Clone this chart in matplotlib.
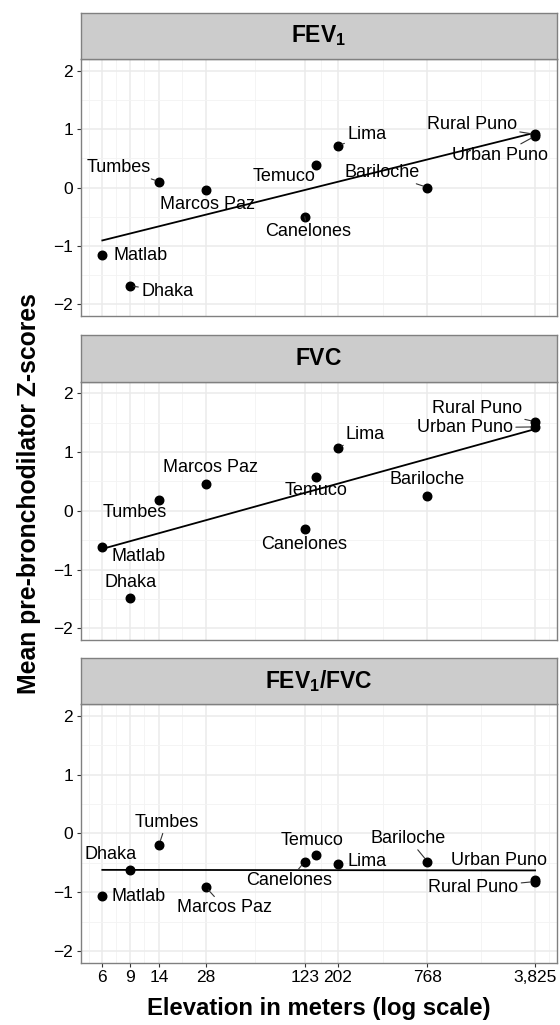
import numpy as np
import matplotlib
matplotlib.use("Agg")
import matplotlib.pyplot as plt
from matplotlib.ticker import NullFormatter

plt.rcParams['font.family'] = ['Liberation Sans', 'DejaVu Sans']
plt.rcParams['mathtext.fontset'] = 'custom'
plt.rcParams['mathtext.rm'] = 'Liberation Sans'
plt.rcParams['mathtext.bf'] = 'Liberation Sans:bold'

# data
sites = ["Matlab", "Dhaka", "Tumbes", "Marcos Paz", "Canelones",
         "Temuco", "Lima", "Bariloche", "Rural Puno", "Urban Puno"]
elevation = [6, 9, 14, 28, 123, 145, 202, 768, 3825, 3825]
tick_elevations = [6, 9, 14, 28, 123, 202, 768, 3825]

fev1_z = [-1.16, -1.68, 0.10, -0.05, -0.50, 0.38, 0.71, 0.00, 0.91, 0.88]
fvc_z = [-0.61, -1.48, 0.18, 0.46, -0.31, 0.58, 1.07, 0.25, 1.52, 1.43]
ratio_z = [-1.07, -0.62, -0.19, -0.91, -0.48, -0.375, -0.52, -0.48, -0.82, -0.79]

panel_titles = [r"$\mathbf{FEV}_{\mathbf{1}}$", r"$\mathbf{FVC}$",
                r"$\mathbf{FEV}_{\mathbf{1}}\mathbf{/FVC}$"]
panel_values = [fev1_z, fvc_z, ratio_z]

# label offsets (points) for each panel, and which labels get a segment
label_offsets = [
    {"Matlab": (27.6, 0), "Dhaka": (27.1, -4.3), "Tumbes": (-28.8, 10.1),
     "Marcos Paz": (1.7, -9.9), "Canelones": (2.2, -10.6), "Temuco": (-22.8, -7.9),
     "Lima": (20.7, 8.6), "Bariloche": (-32.4, 10.8), "Rural Puno": (-45.4, 7.2),
     "Urban Puno": (-25.2, -13.7)},
    {"Matlab": (26.4, -7.2), "Dhaka": (0.7, 11), "Tumbes": (-17.3, -9.1),
     "Marcos Paz": (3.6, 11.7), "Canelones": (-0.5, -11), "Temuco": (0.5, -10.1),
     "Lima": (19.4, 10.1), "Bariloche": (0, 12.2), "Rural Puno": (-41.8, 9.1),
     "Urban Puno": (-50.4, -0.7)},
    {"Matlab": (26.1, 0), "Dhaka": (-13.9, 10.8), "Tumbes": (5.3, 16.1),
     "Marcos Paz": (13.7, -15.1), "Canelones": (-11.3, -13.7), "Temuco": (-2.9, 10.8),
     "Lima": (20.7, 1.9), "Bariloche": (-13.7, 16.6), "Rural Puno": (-44.4, -4.3),
     "Urban Puno": (-25.9, 13.7)},
]
segments = [
    {"Dhaka", "Tumbes", "Canelones", "Lima", "Bariloche", "Rural Puno", "Urban Puno"},
    {"Lima", "Rural Puno", "Urban Puno"},
    {"Tumbes", "Marcos Paz", "Canelones", "Bariloche", "Rural Puno"},
]

W, H = 560, 1025
fig = plt.figure(figsize=(W / 100, H / 100), dpi=100)

PANEL_LEFT = 80.7
PANEL_RIGHT = 556.7
# (strip top, panel top, panel bottom) in pixels from the top
panel_rows = [(12.7, 59.0, 316.0), (335.0, 381.7, 640.0), (658.3, 704.0, 962.7)]

BORDER = '#808080'
GRID = '#EBEBEB'

log_x = np.log10(elevation)
log_ticks = np.log10(tick_elevations)
x_span = log_ticks[-1] - log_ticks[0]
x_lim = (10 ** (log_ticks[0] - 0.05 * x_span), 10 ** (log_ticks[-1] + 0.05 * x_span))

# minor breaks like ggplot: midpoints between majors, extended by one step
step = log_ticks[1] - log_ticks[0]
ext = np.concatenate([[log_ticks[0] - step], log_ticks, [log_ticks[-1] + step]])
minor_x = 10 ** ((ext[:-1] + ext[1:]) / 2)

for i, (strip_top, panel_top, panel_bottom) in enumerate(panel_rows):
    values = panel_values[i]
    ax = fig.add_axes([PANEL_LEFT / W, 1 - panel_bottom / H,
                       (PANEL_RIGHT - PANEL_LEFT) / W, (panel_bottom - panel_top) / H])
    ax.set_xscale('log')
    ax.set_xlim(*x_lim)
    ax.set_ylim(-2.2, 2.2)

    ax.set_xticks(tick_elevations)
    ax.set_xticks(minor_x, minor=True)
    ax.xaxis.set_minor_formatter(NullFormatter())
    ax.set_yticks([-2, -1, 0, 1, 2])
    ax.set_yticks([-1.5, -0.5, 0.5, 1.5], minor=True)
    ax.set_yticklabels(['\u22122', '\u22121', '0', '1', '2'])
    ax.tick_params(which='major', length=3.0, width=0.8, color='#333333',
                   labelsize=12.5, pad=2.5)
    ax.tick_params(which='minor', length=0)
    if i == 2:
        ax.set_xticklabels([f"{t:,}" for t in tick_elevations])
    else:
        # only the bottom facet carries the x axis
        ax.set_xticklabels([])
        ax.tick_params(axis='x', which='major', length=0)

    ax.grid(which='major', color=GRID, linewidth=1.1)
    ax.grid(which='minor', color='#F3F3F3', linewidth=0.6)
    ax.set_axisbelow(True)
    for sp in ax.spines.values():
        sp.set_color(BORDER)
        sp.set_linewidth(1.0)

    # regression of z-score on log elevation
    slope, intercept = np.polyfit(log_x, values, 1)
    fit_x = np.array([min(elevation), max(elevation)])
    ax.plot(fit_x, intercept + slope * np.log10(fit_x), color='black', lw=1.3, zorder=3)

    ax.scatter(elevation, values, s=38, color='black', zorder=4)

    for site, x, y in zip(sites, elevation, values):
        arrow = None
        if site in segments[i]:
            arrow = dict(arrowstyle='-', color='#333333', lw=0.8, shrinkA=0, shrinkB=3)
        ax.annotate(site, (x, y), xytext=label_offsets[i][site], textcoords='offset points',
                    ha='center', va='center', fontsize=13, color='black',
                    arrowprops=arrow, zorder=5)

    # facet strip
    sax = fig.add_axes([PANEL_LEFT / W, 1 - panel_top / H,
                        (PANEL_RIGHT - PANEL_LEFT) / W, (panel_top - strip_top) / H])
    sax.set_facecolor('#CCCCCC')
    sax.set_xticks([])
    sax.set_yticks([])
    for sp in sax.spines.values():
        sp.set_color(BORDER)
        sp.set_linewidth(1.0)
    sax.text(0.5, 0.5, panel_titles[i], ha='center', va='center', fontsize=16.5,
             transform=sax.transAxes)

fig.text(29 / W, 1 - 494 / H, "Mean pre-bronchodilator Z-scores", rotation=90,
         ha='center', va='center', fontsize=17.8, fontweight='bold')
fig.text((PANEL_LEFT + PANEL_RIGHT) / 2 / W, 1 - 1008 / H, "Elevation in meters (log scale)",
         ha='center', va='center', fontsize=17.2, fontweight='bold')

fig.savefig("out.png", dpi=100)
